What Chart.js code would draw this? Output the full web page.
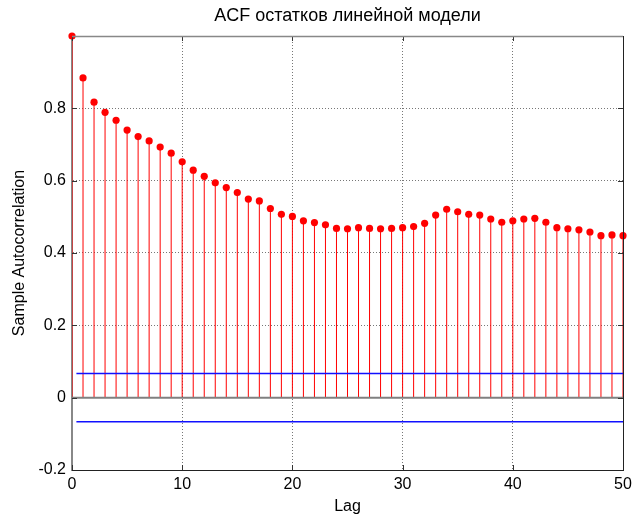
<!DOCTYPE html>
<html>
<head>
<meta charset="utf-8">
<script src="https://cdn.jsdelivr.net/npm/chart.js@4.4.1/dist/chart.umd.min.js"></script>
<style>
	html, body { margin: 0; padding: 0; background: #fff; }
	#wrap { width: 632px; height: 519px; }
</style>
</head>
<body>
<div id="wrap"><canvas id="chart1"></canvas></div>
<script>
// data
const lags = [];
for (let i = 0; i <= 50; i++) lags.push(i);
const acfValues = [
	1.000, 0.884, 0.817, 0.789, 0.767, 0.740, 0.722, 0.710, 0.693, 0.676,
	0.652, 0.629, 0.612, 0.594, 0.581, 0.567, 0.549, 0.544, 0.523, 0.507,
	0.501, 0.489, 0.484, 0.478, 0.468, 0.467, 0.470, 0.468, 0.467, 0.468,
	0.470, 0.473, 0.482, 0.505, 0.521, 0.514, 0.507, 0.505, 0.494, 0.485,
	0.489, 0.494, 0.496, 0.485, 0.470, 0.467, 0.464, 0.458, 0.448, 0.450,
	0.448
];
const boundLags = [0.4, 50];
const upperBound = 0.0667;
const lowerBound = -0.0667;
const xTicks = [0, 10, 20, 30, 40, 50];
const yTicks = [-0.2, 0, 0.2, 0.4, 0.6, 0.8, 1.0];

const FONT = 'Liberation Sans, Arial, sans-serif';

// stems: (lag,0)->(lag,v), broken by null
let stemData = [];
lags.forEach((lag, i) => {
	stemData.push({x: lag, y: 0});
	stemData.push({x: lag, y: acfValues[i]});
	stemData.push({x: lag, y: null});
});

//box and inside tick marks like matlab axes
const axesBox = {
	id: 'axesBox',
	afterDatasetsDraw(chart) {
		const {ctx, chartArea: {left, top, right, bottom}, scales: {x, y}} = chart;
		ctx.save();
		// ticks
		ctx.strokeStyle = '#333';
		ctx.lineWidth = 1;
		ctx.beginPath();
		xTicks.forEach(t => {
			const px = Math.round(x.getPixelForValue(t)) + 0.5;
			ctx.moveTo(px, bottom); ctx.lineTo(px, bottom - 5);
			ctx.moveTo(px, top); ctx.lineTo(px, top + 5);
		});
		yTicks.forEach(t => {
			const py = Math.round(y.getPixelForValue(t)) + 0.5;
			ctx.moveTo(left, py); ctx.lineTo(left + 5, py);
			ctx.moveTo(right, py); ctx.lineTo(right - 5, py);
		});
		ctx.stroke();
		// top (gray) and right (dark) edges
		ctx.strokeStyle = '#888';
		ctx.lineWidth = 1.5;
		ctx.beginPath();
		ctx.moveTo(left, top + 0.5); ctx.lineTo(right, top + 0.5);
		ctx.stroke();
		ctx.strokeStyle = '#222';
		ctx.lineWidth = 1;
		ctx.beginPath();
		ctx.moveTo(right + 0.5, top); ctx.lineTo(right + 0.5, bottom);
		ctx.moveTo(left, bottom + 0.5); ctx.lineTo(right + 1, bottom + 0.5);
		ctx.stroke();
		ctx.restore();
	}
};

const config = {
	type: 'scatter',
	data: {
		datasets: [
			{
				label: 'baseline',
				data: [{x: 0, y: 0}, {x: 50, y: 0}],
				showLine: true,
				borderColor: '#808080',
				borderWidth: 2,
				pointRadius: 0,
				order: 1
			},
			{
				label: 'stems',
				data: stemData,
				showLine: true,
				spanGaps: false,
				borderColor: '#ff0000',
				borderWidth: 1,
				pointRadius: 0,
				order: 3
			},
			{
				label: 'upper',
				data: boundLags.map(l => ({x: l, y: upperBound})),
				showLine: true,
				borderColor: '#1010ff',
				borderWidth: 1.4,
				pointRadius: 0,
				order: 2
			},
			{
				label: 'lower',
				data: boundLags.map(l => ({x: l, y: lowerBound})),
				showLine: true,
				borderColor: '#1010ff',
				borderWidth: 1.4,
				pointRadius: 0,
				order: 2
			},
			{
				label: 'acf',
				data: lags.map((l, i) => ({x: l, y: acfValues[i]})),
				showLine: false,
				pointRadius: 3.6,
				pointBackgroundColor: '#ff0000',
				pointBorderWidth: 0,
				clip: false,
				order: 0
			}
		]
	},
	options: {
		responsive: true,
		maintainAspectRatio: false,
		animation: false,
		layout: { padding: { left: 0, right: 9, top: 0, bottom: 0 } },
		plugins: {
			legend: { display: false },
			tooltip: { enabled: false },
			title: {
				display: true,
				fullSize: false,
				text: 'ACF остатков линейной модели',
				color: '#000',
				font: { family: FONT, size: 18, weight: 'normal', lineHeight: 1.2 },
				padding: { top: 5, bottom: 9.4 }
			}
		},
		scales: {
			x: {
				type: 'linear',
				min: 0,
				max: 50,
				afterFit: s => { s.height = 49; s.paddingLeft = 0; s.paddingRight = 0; },
				afterBuildTicks: s => { s.ticks = xTicks.map(v => ({value: v})); },
				ticks: {
					color: '#000',
					padding: 5,
					maxRotation: 0,
					font: { family: FONT, size: 16 },
					callback: v => String(v)
				},
				grid: { color: '#777', drawTicks: false, lineWidth: 1 },
				border: { display: false, dash: [1, 2] },
				title: {
					display: true,
					text: 'Lag',
					color: '#000',
					font: { family: FONT, size: 16, lineHeight: 1.2 },
					padding: { top: 0, bottom: 3 }
				}
			},
			y: {
				type: 'linear',
				min: -0.2,
				max: 1.0,
				afterFit: s => { s.width = 72; s.paddingTop = 0; s.paddingBottom = 0; },
				afterBuildTicks: s => { s.ticks = yTicks.map(v => ({value: v})); },
				ticks: {
					color: '#000',
					padding: 6,
					font: { family: FONT, size: 16 },
					callback: v => (v >= 0.99 ? '' : String(Math.round(v * 10) / 10))
				},
				grid: { color: '#777', drawTicks: false, lineWidth: 1 },
				border: { display: true, color: '#888', width: 2, dash: [1, 2] },
				title: {
					display: true,
					text: 'Sample Autocorrelation',
					color: '#000',
					font: { family: FONT, size: 16, lineHeight: 1.2 },
					padding: { top: 10, bottom: 0 }
				}
			}
		}
	},
	plugins: [axesBox]
};

new Chart(document.getElementById('chart1'), config);
</script>
</body>
</html>
